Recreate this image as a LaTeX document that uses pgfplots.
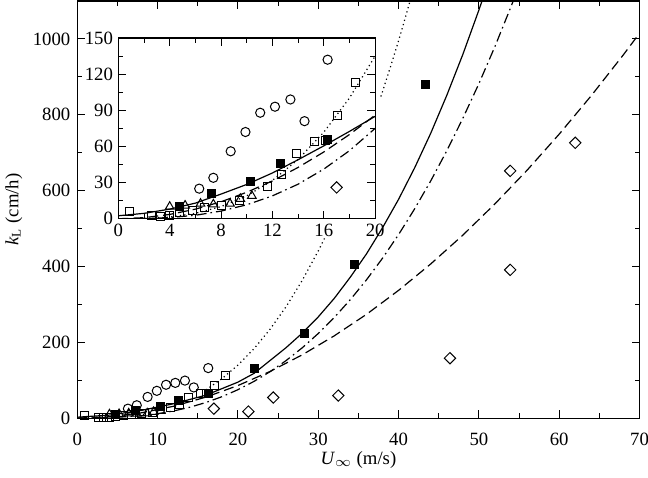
\documentclass[border=0pt]{standalone}
\usepackage{fontspec}
\setmainfont{Liberation Serif}
\usepackage{pgfplots}
\usepackage{pgfplotstable}
\pgfplotsset{compat=1.18}

% open circles
\pgfplotstableread{
x y
6.3 25
7.4 34
8.75 56
9.9 72
11.05 88
12.2 93
13.4 99
14.5 81
16.3 132
}\circdata
% open squares
\pgfplotstableread{
x y
0.85 6
2.6 3
3.3 2
4.0 3
4.8 5
5.8 7
6.7 9
8.0 11
9.4 15
11.6 27
12.7 37
13.9 54
15.3 64
16.1 65
17.1 86
18.5 113
}\osqdata
% open triangles
\pgfplotstableread{
x y
4.0 10
5.2 11
6.4 12.5
7.4 12
8.7 12.5
9.5 16.5
10.4 19
}\tridata
% filled squares
\pgfplotstableread{
x y
4.75 10
7.25 21
10.3 31
12.6 46
16.3 66
22.1 130
28.3 224
34.5 404
43.3 880
}\fsqdata
% diamonds
\pgfplotstableread{
x y
17.0 25
21.3 17.4
24.4 54.4
32.5 59.6
46.4 158
53.9 391
53.9 652
62.0 726
}\diadata

\begin{document}
\begin{tikzpicture}[font=\fontsize{9.4}{11}\selectfont]
\pgfplotsset{
  common/.style={
    scale only axis,
    tick align=inside,
    axis line style={line width=0.6bp},
    major tick length=4bp,
    minor tick length=2.5bp,
    every tick/.style={line width=0.5bp, black},
    tick label style={font=\fontsize{9.4}{11}\selectfont},
    label style={font=\fontsize{9.4}{11}\selectfont},
    /pgf/number format/assume math mode=true,
    /pgf/number format/1000 sep={},
    clip=true,
  },
  mysolid/.style={black, line width=0.6bp},
  mydash/.style={black, line width=0.6bp, dash pattern=on 5bp off 2.5bp},
  mydashdot/.style={black, line width=0.6bp, dash pattern=on 5bp off 2bp on 0.8bp off 2bp},
  mydot/.style={black, line width=0.6bp, dash pattern=on 0.6bp off 1.6bp},
  ocirc/.style={black, only marks, mark=o, mark size=2.3bp, mark options={line width=0.5bp, solid}},
  osq/.style={black, only marks, mark=square, mark size=2bp, mark options={line width=0.5bp, solid, fill=white}},
  otri/.style={black, only marks, mark=triangle, mark size=2.5bp, mark options={line width=0.5bp, solid, fill=white}},
  fsq/.style={black, only marks, mark=square*, mark size=2bp, mark options={line width=0.5bp, solid, fill=black}},
  odia/.style={black, only marks, mark=square, mark size=2bp, mark options={line width=0.5bp, solid, rotate=45}},
}
\begin{axis}[common, name=main,
  width=281bp, height=208.5bp,
  xmin=0, xmax=70, ymin=0, ymax=1100,
  xtick={0,10,...,70}, minor xtick={5,15,...,65},
  ytick={0,200,...,1000}, minor ytick={100,300,...,900},
  xticklabel style={yshift=-3.8bp},
  xlabel={\textit{U}$_\infty$ (m/s)},
  ylabel={\textit{k}\textsubscript{L} (cm/h)},
  xlabel style={at={(axis description cs:0.5,-0.1)}, anchor=center},
  ylabel style={at={(axis description cs:-0.113,0.5)}, anchor=center},
]
\addplot[mysolid] coordinates {(0,2.5) (4,8) (8,20.5) (12,38) (16,60.5) (20,95) (22,118) (24,152) (26,186) (28,224) (30,267) (32,316) (34,372) (36,433) (38,502) (40,577) (42,660) (44,751) (46,851) (48,959) (50,1076) (51,1138)};
\addplot[mydot] coordinates {(16,74.5) (18,104) (20,140) (22,183) (24,234.5) (26,294) (28,363) (30,441) (30.8,475)};
\addplot[mydot] coordinates {(37.8,848) (38,861) (39,927) (40,995) (41,1068) (42,1143)};
\addplot[mydashdot] coordinates {(0,0) (4,1) (8,6.4) (10,11.6) (12,19) (14,28.7) (16,41.2) (18,56.5) (20,75) (22,96.9) (24,122.5) (26,151.9) (28,185.4) (30,223.2) (32,265.6) (34,312.6) (36,364.6) (38,421.7) (40,484) (42,551.9) (44,625.4) (46,704.9) (48,790.5) (50,882) (52,980) (54,1085) (55,1140)};
\addplot[mydash] coordinates {(0,0) (4,3.6) (8,14.1) (12,31.4) (16,55.4) (20,86) (24,123.1) (28,166.9) (32,217.1) (36,273.7) (40,336.9) (44,406.5) (48,482.5) (52,565) (56,653.7) (60,748.9) (64,850.5) (68,958.4) (70,1014.8)};
\addplot[ocirc] table {\circdata};
\addplot[osq] table {\osqdata};
\addplot[otri] table {\tridata};
\addplot[fsq] table {\fsqdata};
\addplot[odia] table {\diadata};
\end{axis}

\begin{axis}[common,
  at={(main.south west)}, anchor=south west, xshift=20.5bp, yshift=99.65bp,
  width=128.35bp, height=90.35bp,
  xmin=0, xmax=20, ymin=0, ymax=150,
  xtick={0,4,...,20}, minor xtick={2,6,...,18},
  ytick={0,30,...,150}, minor ytick={15,45,...,135},
  axis background/.style={fill=white},
  xticklabel style={yshift=1bp},
  yticklabel style={xshift=0.8bp},
]
\addplot[mydot] coordinates {(0,0) (2,0.2) (4,1.4) (6,4.5) (8,10.1) (10,19.0) (12,31.8) (14,49.2) (16,71.8) (18,100.2) (20,135)};
\addplot[mysolid] coordinates {(0,2.5) (2,4.5) (4,8) (6,13) (8,20.5) (10,28.5) (12,38) (14,49) (16,60.5) (18,72.5) (20,85)};
\addplot[mydash] coordinates {(0,0) (2,0.9) (4,3.6) (6,8.0) (8,14.1) (10,22.0) (12,31.4) (14,42.6) (16,55.4) (18,69.9) (20,86)};
\addplot[mydashdot] coordinates {(0,0) (2,0.15) (4,1) (6,2.9) (8,6.4) (10,11.6) (12,19.0) (14,28.7) (16,41.2) (18,56.5) (20,75)};
\addplot[ocirc] table {\circdata};
\addplot[osq] table {\osqdata};
\addplot[otri] table {\tridata};
\addplot[fsq] table {\fsqdata};
\addplot[odia] coordinates {(17.0,26)};
\end{axis}
\pgfresetboundingbox
\path ([xshift=-38.65bp, yshift=-29.85bp]main.south west) rectangle ([xshift=4.25bp, yshift=0.5bp]main.north east);
\end{tikzpicture}
\end{document}
